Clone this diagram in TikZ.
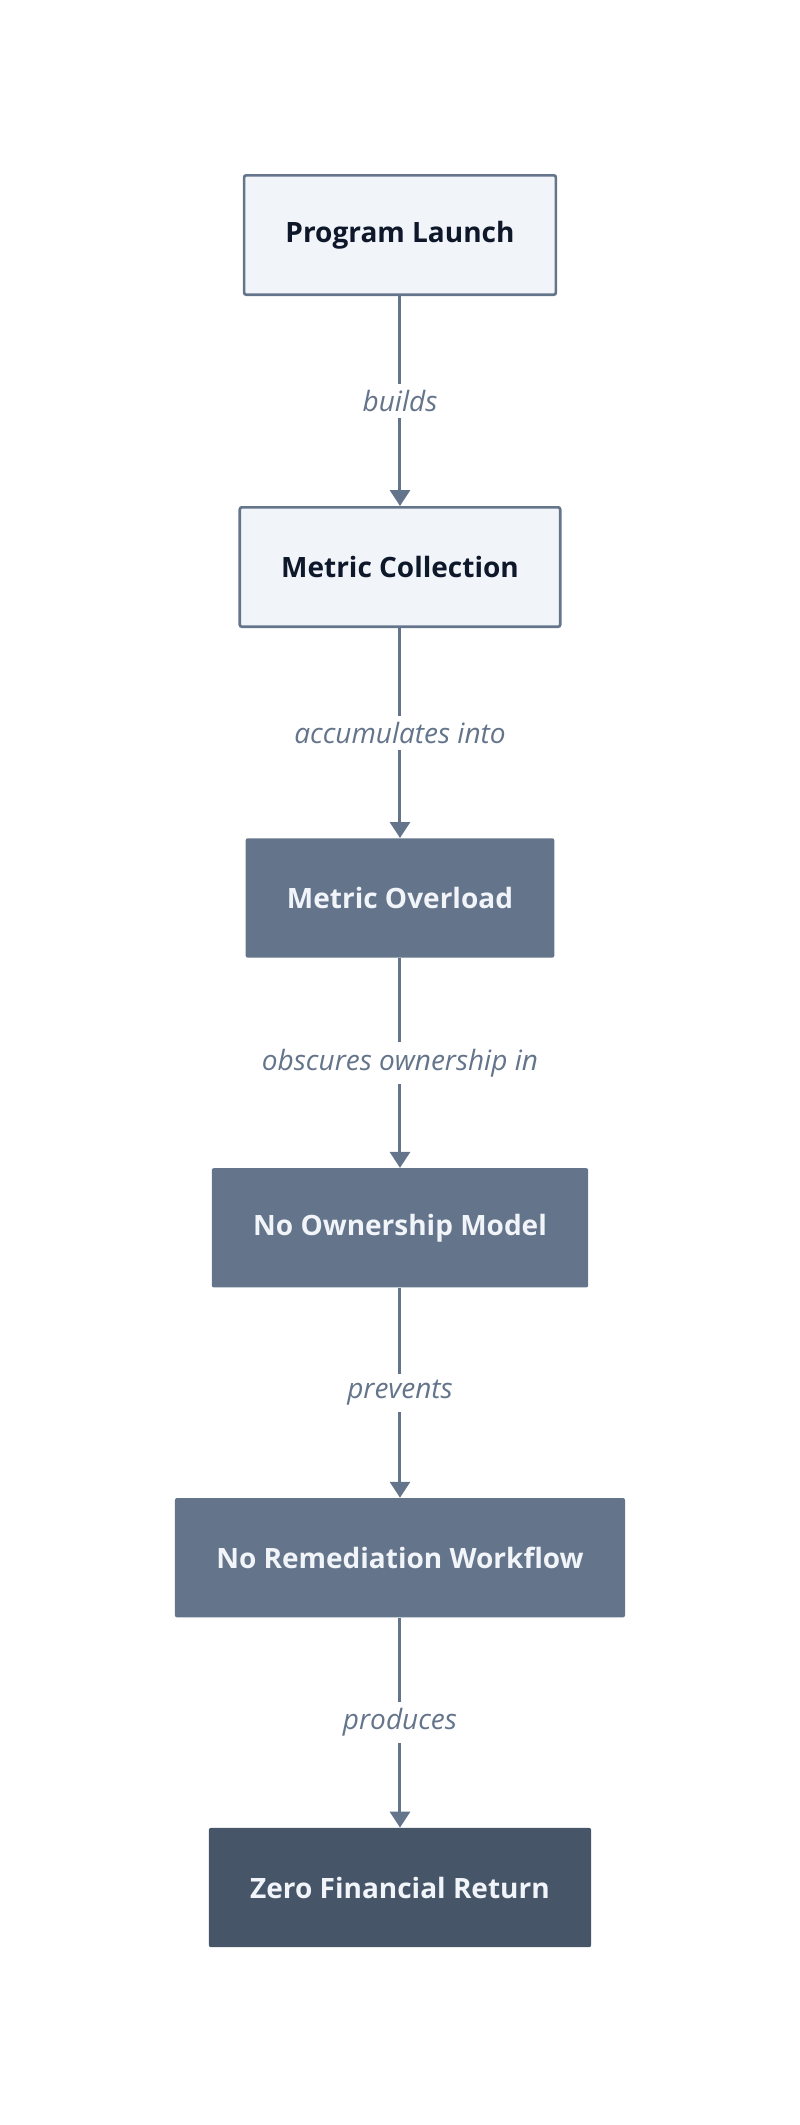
\documentclass[tikz,border=0pt]{standalone}
\usepackage{fontspec}
\setmainfont{Open Sans}
\usetikzlibrary{arrows.meta,positioning}
\definecolor{slatelight}{HTML}{F1F5F9}
\definecolor{slatemid}{HTML}{64748B}
\definecolor{slatedark}{HTML}{475569}
\definecolor{slateink}{HTML}{0F172A}

\begin{document}
\begin{tikzpicture}[
    node/.style={minimum height=89.5pt, inner xsep=31pt, rounded corners=1.5pt, font=\bfseries\fontsize{21}{25}\selectfont},
    lightnode/.style={node, draw=slatemid, fill=slatelight, text=slateink, line width=2pt},
    midnode/.style={node, fill=slatemid, text=slatelight},
    darknode/.style={node, fill=slatedark, text=slatelight},
    link/.style={draw=slatemid, line width=2.25pt},
    edgelabel/.style={midway, fill=white, text=slatemid, inner sep=5pt, font=\itshape\fontsize{21}{25}\selectfont},
    ->, >={Triangle[width=15pt,length=12pt]}, node distance=157.5pt
]

% Nodes
\node[lightnode] (launch) {Program Launch};
\node[lightnode, below=of launch] (collection) {Metric Collection};
\node[midnode, below=of collection] (overload) {Metric Overload};
\node[midnode, below=of overload] (ownership) {No Ownership Model};
\node[midnode, below=of ownership] (remediation) {No Remediation Workflow};
\node[darknode, below=of remediation] (return) {Zero Financial Return};

% Arrows with labels
\draw[link] (launch) -- (collection) node[edgelabel] {builds};
\draw[link] (collection) -- (overload) node[edgelabel] {accumulates into};
\draw[link] (overload) -- (ownership) node[edgelabel] {obscures ownership in};
\draw[link] (ownership) -- (remediation) node[edgelabel] {prevents};
\draw[link] (remediation) -- (return) node[edgelabel] {produces};

\path[use as bounding box] (-300pt,176.25pt) rectangle (300pt,-1417.5pt);

\end{tikzpicture}
\end{document}
